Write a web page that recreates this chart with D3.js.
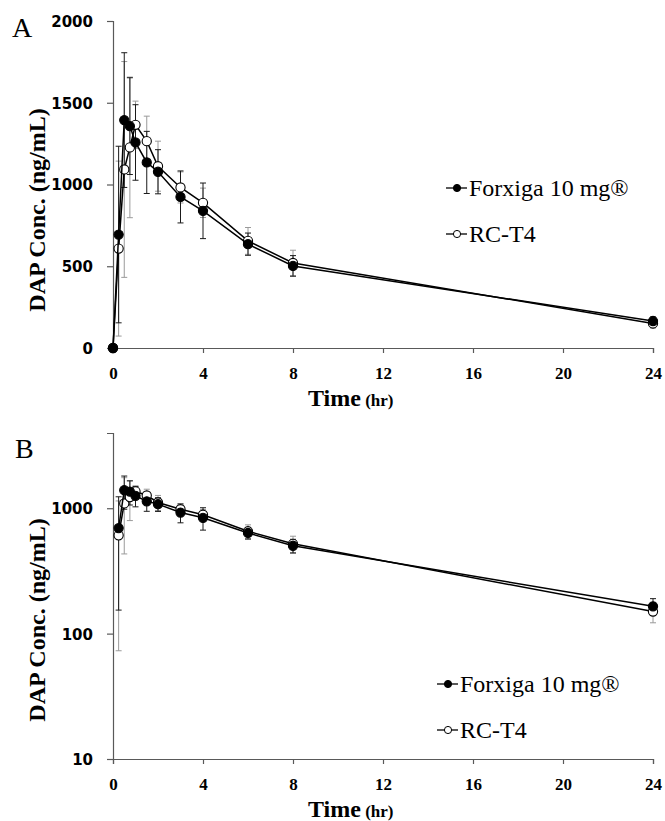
<!DOCTYPE html>
<html>
<head>
<meta charset="utf-8">
<script src="https://cdn.jsdelivr.net/npm/d3@7"></script>
<style>
  body { margin: 0; background: #fff; }
</style>
</head>
<body>
<div id="chart"></div>
<script>
// time points (hr)
const times = [0, 0.25, 0.5, 0.75, 1, 1.5, 2, 3, 4, 6, 8, 24];
// Forxiga 10 mg (mean, SD)
const forxigaMean = [0, 694, 1394, 1357, 1257, 1135, 1078, 924, 839, 635, 502, 165];
const forxigaSD = [0, 540, 412, 296, 231, 190, 135, 159, 170, 68, 63, 25];
// RC-T4 (mean, SD)
const rcMean = [0, 608, 1092, 1227, 1365, 1265, 1112, 982, 888, 655, 520, 150];
const rcSD = [0, 535, 660, 430, 145, 153, 153, 95, 90, 82, 78, 28];

const xTicks = [0, 4, 8, 12, 16, 20, 24];
const linTicks = [0, 500, 1000, 1500, 2000];
const logTicks = [10, 100, 1000];
const seriesNames = ["Forxiga 10 mg\u00AE", "RC-T4"];

const W = 665, H = 821;
const serif = "'Liberation Serif', 'Times New Roman', serif";
const sans = "'DejaVu Sans', sans-serif";
const axisColor = "#595959";

const svg = d3.select("#chart").append("svg")
  .attr("width", W)
  .attr("height", H);

const x = d3.scaleLinear().domain([0, 24]).range([113, 653]);

const rc = times.map((t, i) => ({ t: t, m: rcMean[i], sd: rcSD[i] }));
const fx = times.map((t, i) => ({ t: t, m: forxigaMean[i], sd: forxigaSD[i] }));

function drawPanel(p) {
  const g = svg.append("g");
  const y = p.y;
  const yMin = y.domain()[0];
  const ok = (d) => d.m > 0 || !p.log;

  // axes
  const xAxis = g.append("g")
    .attr("transform", "translate(0," + p.bottom + ")")
    .call(d3.axisBottom(x).tickValues(xTicks).tickSize(5).tickFormat(d3.format("d")));
  const yAxis = g.append("g")
    .attr("transform", "translate(" + x(0) + ",0)")
    .call(d3.axisLeft(y).tickValues(p.ticks).tickSize(6).tickFormat(d3.format("d")));

  [xAxis, yAxis].forEach((a) => {
    a.select(".domain").attr("stroke", axisColor).attr("stroke-width", 1.2);
    a.selectAll(".tick line").attr("stroke", axisColor).attr("stroke-width", 1.2);
  });
  xAxis.selectAll(".tick text")
    .attr("y", 0).attr("dy", 0)
    .attr("transform", "translate(0,31)")
    .style("font-family", serif).style("font-weight", "bold")
    .style("font-size", "17px").attr("fill", "#000");
  yAxis.selectAll(".tick text")
    .attr("x", -20).attr("dy", "0.36em")
    .style("font-family", sans).style("font-weight", "bold")
    .style("font-size", "15px").attr("fill", "#000");

  // axis titles
  const xt = g.append("text")
    .attr("x", 308).attr("y", p.bottom + 58)
    .style("font-family", serif).style("font-weight", "bold")
    .attr("fill", "#000");
  xt.append("tspan").text("Time").style("font-size", "24px");
  xt.append("tspan").text(" (hr)").style("font-size", "17px");

  g.append("text")
    .attr("transform", "translate(45," + p.titleY + ") rotate(-90)")
    .attr("text-anchor", "middle")
    .style("font-family", serif).style("font-weight", "bold")
    .style("font-size", "24px").attr("fill", "#000")
    .text("DAP Conc. (ng/mL)");

  // panel letter
  g.append("text")
    .attr("x", p.letterX).attr("y", p.letterY)
    .style("font-family", serif).style("font-size", "28px")
    .attr("fill", "#000")
    .text(p.letter);

  // error bars
  const lo = (d) => y(Math.max(d.m - d.sd, yMin));
  const hi = (d) => y(d.m + d.sd);
  [[rc, "#9a9a9a"], [fx, "#1a1a1a"]].forEach(([data, col]) => {
    const eb = g.append("g").attr("stroke", col).attr("stroke-width", 1);
    const dd = data.filter((d) => d.sd > 0 && ok(d));
    eb.selectAll("line.v").data(dd).enter().append("line")
      .attr("x1", (d) => x(d.t)).attr("x2", (d) => x(d.t))
      .attr("y1", lo).attr("y2", hi);
    eb.selectAll("line.top").data(dd).enter().append("line")
      .attr("x1", (d) => x(d.t) - 3).attr("x2", (d) => x(d.t) + 3)
      .attr("y1", hi).attr("y2", hi);
    eb.selectAll("line.bot").data(dd.filter((d) => d.m - d.sd > yMin)).enter().append("line")
      .attr("x1", (d) => x(d.t) - 3).attr("x2", (d) => x(d.t) + 3)
      .attr("y1", lo).attr("y2", lo);
  });

  // lines + markers
  const line = d3.line().x((d) => x(d.t)).y((d) => y(d.m));
  [[rc, "#fff"], [fx, "#000"]].forEach(([data, fill]) => {
    const dd = data.filter(ok);
    g.append("path").datum(dd)
      .attr("d", line)
      .attr("fill", "none").attr("stroke", "#000").attr("stroke-width", 1.5);
    g.selectAll(null).data(dd).enter().append("circle")
      .attr("cx", (d) => x(d.t)).attr("cy", (d) => y(d.m))
      .attr("r", 4.6)
      .attr("fill", fill).attr("stroke", "#000").attr("stroke-width", 1.1);
  });

  // legend
  const leg = g.append("g");
  seriesNames.forEach((name, i) => {
    const ly = p.legY + i * 46;
    leg.append("line")
      .attr("x1", p.legX - 11).attr("x2", p.legX + 10)
      .attr("y1", ly).attr("y2", ly)
      .attr("stroke", "#000").attr("stroke-width", 1.3);
    leg.append("circle")
      .attr("cx", p.legX).attr("cy", ly).attr("r", 3.6)
      .attr("fill", i === 0 ? "#000" : "#fff")
      .attr("stroke", "#000").attr("stroke-width", 1);
    leg.append("text")
      .attr("x", p.legX + 12).attr("y", ly + 8)
      .style("font-family", serif).style("font-size", "24px")
      .attr("fill", "#000")
      .text(name);
  });
}

// A: linear
drawPanel({
  y: d3.scaleLinear().domain([0, 2000]).range([348, 21]),
  ticks: linTicks,
  log: false,
  bottom: 348,
  titleY: 210,
  letter: "A", letterX: 12, letterY: 37,
  legX: 457, legY: 188
});

// B: log
drawPanel({
  y: d3.scaleLog().domain([10, Math.pow(10, 3.6)]).range([759, 433]),
  ticks: logTicks,
  log: true,
  bottom: 759,
  titleY: 620,
  letter: "B", letterX: 15, letterY: 458,
  legX: 448, legY: 684
});
</script>
</body>
</html>
